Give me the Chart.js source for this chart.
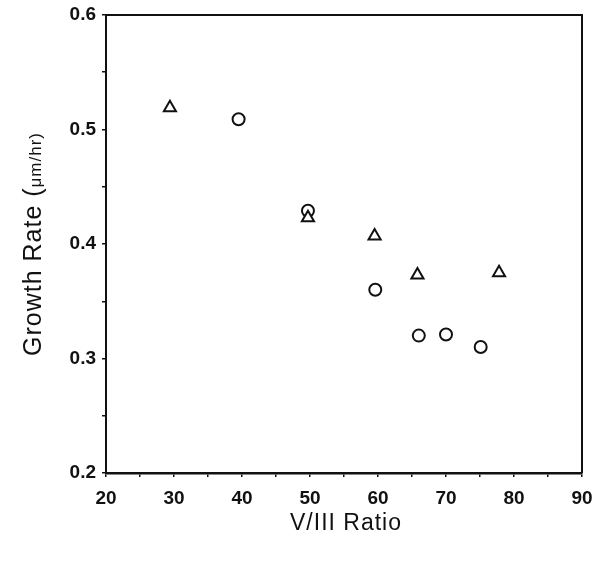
<!DOCTYPE html>
<html>
<head>
<meta charset="utf-8">
<script src="https://cdn.jsdelivr.net/npm/chart.js@4/dist/chart.umd.min.js"></script>
<style>
  html, body { margin: 0; padding: 0; background: #fff; }
  #wrap { width: 594px; height: 564px; }
</style>
</head>
<body>
<div id="wrap"><canvas id="c" width="594" height="564"></canvas></div>
<script>
// V/III ratio vs growth rate, two sample sets
const circleRatio = [39.5, 49.7, 59.6, 66.0, 70.0, 75.1];
const circleRate  = [0.509, 0.429, 0.360, 0.320, 0.321, 0.310];
const triangleRatio = [29.4, 49.7, 59.5, 65.8, 77.8];
const triangleRate  = [0.519, 0.423, 0.407, 0.373, 0.375];

const xTitle = 'V/III Ratio';
const yTitleMain = 'Growth Rate (';
const yTitleUnit = 'μm/hr)';

const FONT = '"Liberation Sans", Arial, sans-serif';
const INK = '#111';

function toPoints(xs, ys) { return xs.map((x, i) => ({ x: x, y: ys[i] })); }

// frame around the plot plus hand-set axis titles (mixed sizes in the y title)
const framePlugin = {
  id: 'frame',
  afterDraw(chart) {
    const { ctx, chartArea: a } = chart;
    ctx.save();
    ctx.strokeStyle = INK;
    ctx.lineWidth = 2;
    ctx.beginPath();
    ctx.moveTo(a.left, a.top);
    ctx.lineTo(a.right, a.top);
    ctx.lineTo(a.right, a.bottom);
    ctx.stroke();

    ctx.fillStyle = INK;
    ctx.letterSpacing = '1px';
    ctx.textAlign = 'center';
    ctx.textBaseline = 'middle';
    ctx.font = '23px ' + FONT;
    ctx.fillText(xTitle, (a.left + a.right) / 2 + 2, 524);

    // rotated y title
    ctx.translate(32, (a.top + a.bottom) / 2);
    ctx.rotate(-Math.PI / 2);
    const f1 = '25px ' + FONT, f2 = '17px ' + FONT;
    ctx.font = f1; const w1 = ctx.measureText(yTitleMain).width;
    ctx.font = f2; const w2 = ctx.measureText(yTitleUnit).width;
    let x0 = -(w1 + w2) / 2;
    ctx.textAlign = 'left';
    ctx.textBaseline = 'alphabetic';
    ctx.font = f1; ctx.fillText(yTitleMain, x0, 9);
    ctx.font = f2; ctx.fillText(yTitleUnit, x0 + w1, 9);
    ctx.restore();
  }
};

new Chart(document.getElementById('c'), {
  type: 'scatter',
  data: {
    datasets: [
      {
        label: 'triangles',
        data: toPoints(triangleRatio, triangleRate),
        pointStyle: 'triangle',
        pointRadius: 7,
        pointBorderWidth: 2,
        borderColor: INK,
        backgroundColor: '#fff'
      },
      {
        label: 'circles',
        data: toPoints(circleRatio, circleRate),
        pointStyle: 'circle',
        pointRadius: 6,
        pointBorderWidth: 2,
        borderColor: INK,
        backgroundColor: 'rgba(255,255,255,0)'
      }
    ]
  },
  options: {
    responsive: false,
    animation: false,
    layout: { padding: { left: 0, top: 15, right: 12, bottom: 0 } },
    plugins: { legend: { display: false }, tooltip: { enabled: false } },
    scales: {
      x: {
        type: 'linear',
        min: 20, max: 90,
        afterFit(s) { s.height = 91; s.paddingLeft = 0; s.paddingRight = 0; },
        border: { display: true, color: INK, width: 2.5 },
        grid: { drawOnChartArea: false, drawTicks: true, tickLength: 4, color: INK, lineWidth: 1.5 },
        ticks: {
          stepSize: 5,
          autoSkip: false,
          maxRotation: 0,
          padding: 10,
          color: INK,
          font: { family: FONT, size: 19, weight: 'bold' },
          callback: v => (Math.round(v) % 10 === 0 ? String(v) : '')
        }
      },
      y: {
        type: 'linear',
        min: 0.2, max: 0.6,
        afterFit(s) { s.width = 106; s.paddingTop = 0; s.paddingBottom = 0; },
        border: { display: true, color: INK, width: 2 },
        grid: { drawOnChartArea: false, drawTicks: true, tickLength: 4, color: INK, lineWidth: 1.5 },
        ticks: {
          stepSize: 0.05,
          autoSkip: false,
          padding: 6,
          color: INK,
          font: { family: FONT, size: 19, weight: 'bold' },
          callback: v => (Math.round(v * 100) % 10 === 0 ? v.toFixed(1) : '')
        }
      }
    }
  },
  plugins: [framePlugin]
});
</script>
</body>
</html>
